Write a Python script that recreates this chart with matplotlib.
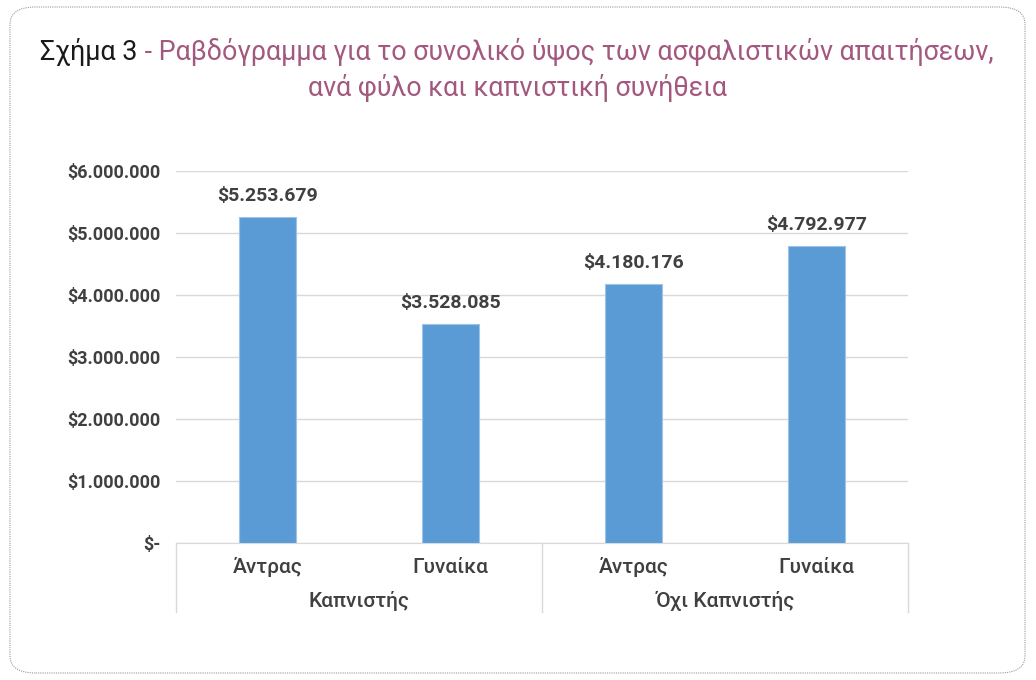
import matplotlib
matplotlib.use('Agg')
import matplotlib.pyplot as plt
from matplotlib.patches import FancyBboxPatch
from matplotlib.ticker import FuncFormatter

# Δεδομένα
groups = ['Καπνιστής', 'Όχι Καπνιστής']
sexes = ['Άντρας', 'Γυναίκα', 'Άντρας', 'Γυναίκα']
values = [5253679, 3528085, 4180176, 4792977]
yticks = [0, 1000000, 2000000, 3000000, 4000000, 5000000, 6000000]

TITLE_FONT = ['Roboto', 'DejaVu Sans']
NUM_FONT = ['Roboto', 'DejaVu Sans']
BAR = '#5b9bd5'
GRID = '#d9d9d9'
TXT = '#404040'
MAUVE = '#a3587f'
W, H = 1036, 680


def money(v, pos=None):
    if v == 0:
        return '$-'
    return '$' + f'{int(round(v)):,}'.replace(',', '.')


fig = plt.figure(figsize=(W / 100, H / 100), dpi=100)

# πλαίσιο με διακεκομμένη γραμμή
frame = FancyBboxPatch((10 / W, 7 / H), 1015 / W, 666 / H,
                       boxstyle='round,pad=0,rounding_size=0.025',
                       transform=fig.transFigure, fill=False,
                       ec='#9a9a9a', lw=0.8, ls=(0, (1, 1)))
fig.patches.append(frame)

# τίτλος, πρώτη γραμμή σε δύο χρώματα, κεντραρισμένη
fs = 21
part_a = 'Σχήμα 3'
part_b = ' - Ραβδόγραμμα για το συνολικό ύψος των ασφαλιστικών απαιτήσεων,'
ta = fig.text(0, 1 - 52 / H, part_a, fontsize=fs, color='#1a1a1a',
              family=TITLE_FONT, va='center', ha='left')
tb = fig.text(0, 1 - 52 / H, part_b, fontsize=fs, color=MAUVE,
              family=TITLE_FONT, va='center', ha='left')
fig.canvas.draw()
r = fig.canvas.get_renderer()
wa = ta.get_window_extent(r).width
wb = tb.get_window_extent(r).width
scale = 955 / (wa + wb)
fs = fs * scale
ta.set_fontsize(fs)
tb.set_fontsize(fs)
fig.canvas.draw()
wa = ta.get_window_extent(r).width
wb = tb.get_window_extent(r).width
x0 = 517 - (wa + wb) / 2
ta.set_x(x0 / W)
tb.set_x((x0 + wa) / W)
fig.text(517 / W, 1 - 88 / H, 'ανά φύλο και καπνιστική συνήθεια',
         fontsize=fs, color=MAUVE, family=TITLE_FONT, va='center', ha='center')

ax = fig.add_axes([176 / W, 1 - 543 / H, 732 / W, 372 / H])
x = list(range(len(values)))
ax.bar(x, values, width=0.31, color=BAR, edgecolor='#9dc3e6', linewidth=0.8, zorder=3)
for xi, v in zip(x, values):
    ax.text(xi, v + 190000, money(v), ha='center', va='bottom', fontsize=14,
            fontweight='bold', color=TXT, family=NUM_FONT)

ax.set_xlim(-0.5, len(values) - 0.5)
ax.set_ylim(0, 6000000)
ax.set_yticks(yticks)
ax.yaxis.set_major_formatter(FuncFormatter(money))
ax.grid(axis='y', color=GRID, lw=1, zorder=0)
for s in ['top', 'right', 'left']:
    ax.spines[s].set_visible(False)
ax.spines['bottom'].set_color(GRID)
ax.tick_params(axis='y', length=0, pad=11, labelsize=13, labelcolor=TXT)
for lab in ax.get_yticklabels():
    lab.set_family(NUM_FONT)
    lab.set_fontweight('bold')
ax.set_xticks([])

# ετικέτες κατηγοριών σε δύο επίπεδα
for xi, s in zip(x, sexes):
    ax.text(xi, -0.065, s, transform=ax.get_xaxis_transform(), ha='center', va='center',
            fontsize=15, fontweight='medium', color=TXT, family=TITLE_FONT)
for gi, g in enumerate(groups):
    ax.text(gi * 2 + 0.5, -0.155, g, transform=ax.get_xaxis_transform(), ha='center',
            va='center', fontsize=15, fontweight='medium', color=TXT, family=TITLE_FONT)
for xb in [-0.5, 1.5, 3.5]:
    ax.plot([xb, xb], [0, -0.185], transform=ax.get_xaxis_transform(), color=GRID,
            lw=1, clip_on=False)

fig.savefig('out.png', dpi=100)
